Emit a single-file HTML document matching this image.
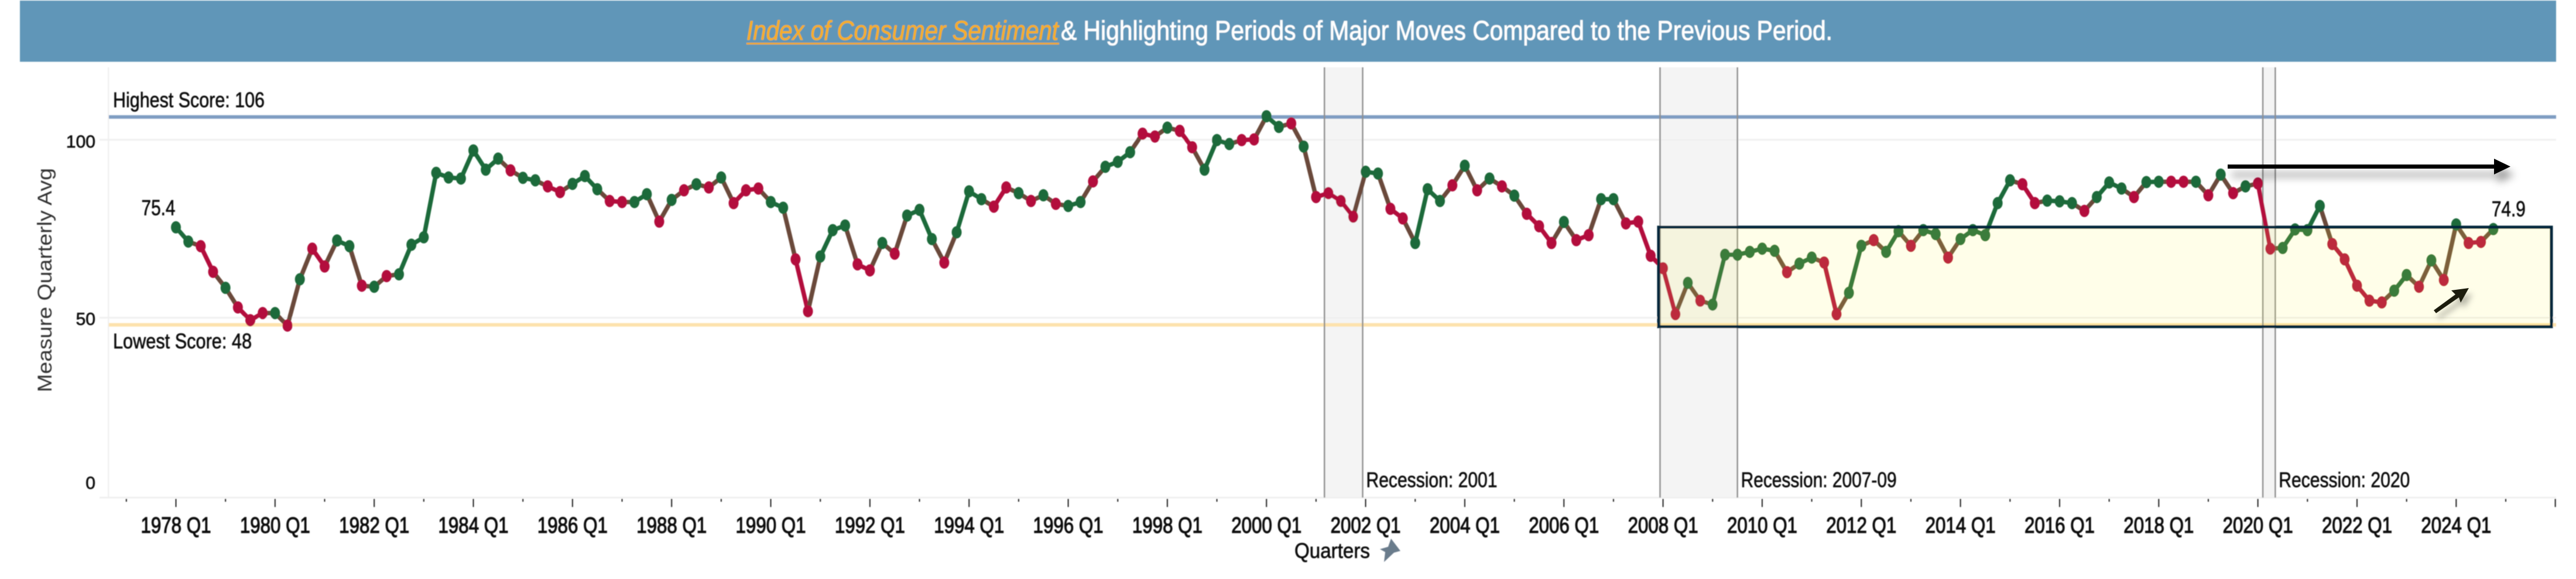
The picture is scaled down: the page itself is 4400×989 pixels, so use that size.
<!DOCTYPE html>
<html lang="en">
<head>
<meta charset="utf-8">
<title>Index of Consumer Sentiment</title>
<style>
html,body{margin:0;padding:0;background:#fff;}
#stage{display:block;width:4400px;height:989px;font-family:"Liberation Sans",sans-serif;}
text{font-family:"Liberation Sans",sans-serif;fill:#111;stroke:#111;stroke-width:0.7px;}
</style>
</head>
<body>
<svg id="stage" xmlns="http://www.w3.org/2000/svg" width="4400" height="989" viewBox="0 0 4400 989">
  <defs>
    <filter id="soft" x="-2%" y="-2%" width="104%" height="104%"><feGaussianBlur stdDeviation="0.8"/></filter>
    <filter id="arrow-shadow" x="-20%" y="-100%" width="140%" height="400%"><feDropShadow dx="7" dy="14" stdDeviation="7" flood-color="#000" flood-opacity="0.4"/></filter>
    <filter id="small-arrow-shadow" x="-50%" y="-50%" width="200%" height="200%"><feDropShadow dx="6" dy="10" stdDeviation="5" flood-color="#000" flood-opacity="0.28"/></filter>
  </defs>
  <rect width="4400" height="989" fill="#fff"/>
  <g filter="url(#soft)">
    <rect x="34" y="1" width="4332" height="104.500" fill="#6096b8"/>
    <text x="1275" y="68" font-size="46" font-style="italic" textLength="533" lengthAdjust="spacingAndGlyphs" style="fill:#f6ae27;stroke:#f6ae27">Index of Consumer Sentiment</text>
    <rect x="1275" y="73" width="534" height="3" fill="#f0a820"/>
    <text x="1812" y="68" font-size="46" textLength="1318" lengthAdjust="spacingAndGlyphs" style="fill:#fff;stroke:#fff">&amp; Highlighting Periods of Major Moves Compared to the Previous Period.</text>
  </g>
  <g id="plot" filter="url(#soft)"></g>
  <g>
    <g filter="url(#arrow-shadow)">
      <rect x="3805" y="281" width="458" height="7" fill="#000"/>
      <polygon points="4260,271 4288,284.500 4260,298" fill="#000"/>
    </g>
    <g filter="url(#small-arrow-shadow)">
      <polygon points="4157,530 4194,503 4187,496 4217,492 4203,517 4200,508 4161,535" fill="#1f1f10"/>
    </g>
  </g>
  <g filter="url(#soft)">
    <text transform="translate(88,670) rotate(-90)" font-size="34" textLength="383" lengthAdjust="spacingAndGlyphs" style="fill:#333;stroke:none">Measure Quarterly Avg</text>
    <text x="2211" y="953" font-size="36" textLength="129" lengthAdjust="spacingAndGlyphs">Quarters</text>
    <polygon points="2376,920 2392,941 2381,944 2364,960 2366,943 2357,938 2371,934" fill="#6b7b8c"/>
  </g>
</svg>
<script>
// ---- chart data ----
const sentimentValues = [
75.4,71.4,70.1,62.9,58.4,52.9,49.3,51.3,51.3,47.8,
60.8,69.4,64.4,71.7,70.1,59.0,58.7,61.7,62.2,70.5,
72.6,90.7,89.4,89.1,97.0,91.6,94.7,91.4,89.3,88.6,
86.9,85.3,87.6,89.8,86.1,82.8,82.5,82.5,84.7,77.0,
83.1,85.8,87.5,86.6,89.4,82.2,85.8,86.3,82.5,80.9,
66.4,51.8,67.2,74.6,75.9,65.0,63.3,71.0,68.0,78.7,
80.3,72.1,65.5,74.0,85.5,83.3,81.2,86.6,85.0,82.8,
84.4,82.0,81.4,82.5,88.3,92.4,93.8,96.5,101.7,100.9,
103.4,102.5,97.9,91.6,99.9,98.8,99.9,100.1,106.6,103.6,
104.6,98.1,83.9,85.0,82.8,78.4,91.0,90.5,80.6,77.9,
71.0,86.1,82.8,87.2,92.7,85.8,89.1,86.9,84.3,79.2,
75.7,71.0,76.9,71.8,73.2,83.3,83.3,76.5,77.0,67.4,
63.9,51.0,59.8,54.8,53.7,67.7,67.7,68.5,69.4,68.8,
62.8,65.2,66.9,65.5,51.0,57.0,70.2,71.8,68.5,74.3,
70.2,74.6,73.5,66.9,72.1,74.6,73.2,82.2,88.6,87.5,
82.2,82.9,82.7,82.2,80.0,83.9,88.0,86.3,83.9,88.1,
88.2,88.2,88.2,88.2,84.4,90.2,85.0,86.9,87.7,69.4,
69.6,74.8,74.6,81.4,70.7,66.4,59.0,54.8,54.3,57.6,
62.0,58.7,66.1,60.6,76.2,71.0,71.3,74.9
];
const moveFlags = ("GGRRGRRRGR"+"GRRGGRGRGG"+"GGGGGGGRGG"+"RRGGGRRGGR"+
"GRGRGRRRGG"+"RRGGGRRGRG"+"GGRGGGRRGR"+"GRGGRGGGRR"+
"GRRGGGRRGG"+"RGRRRRGGRR"+"GGGRGRGRGR"+"RRGRRGGRRR"+
"RRGRGGGGGG"+"RGGRRGGRGG"+"RGGRGGGGGR"+"RGGGRGGGRG"+
"GRRGRGRGRR"+"GGGGRRRRRG"+"GRGRGRRG").split("");
const tickYears = [1978,1980,1982,1984,1986,1988,1990,1992,1994,1996,1998,2000,2002,2004,2006,2008,2010,2012,2014,2016,2018,2020,2022,2024];
const tickLabels = tickYears.map(function(y){return y+" Q1";});
const minorTickYears = [1977,1979,1981,1983,1985,1987,1989,1991,1993,1995,1997,1999,2001,2003,2005,2007,2009,2011,2013,2015,2017,2019,2021,2023,2025,2026];
const yTickValues = [100,50,0];
const recessionNames = ["2001","2007-09","2020"];
const recessionStarts = [2001.17,2007.94,2020.10];
const recessionEnds = [2001.94,2009.50,2020.35];
const highestScore = 106.4;
const lowestScore = 48;

// ---- scales ----
function xYear(y){ return 300.5 + (y-1978)*84.67; }
function xQuarter(i){ return xYear(1978 + i/4); }
function yVal(v){ return 238.7 + (100-v)*6.08; }

const NS = "http://www.w3.org/2000/svg";
const plot = document.getElementById("plot");
function el(tag, attrs, text){
  const e = document.createElementNS(NS, tag);
  for (const k in attrs) e.setAttribute(k, attrs[k]);
  if (text !== undefined) e.textContent = text;
  plot.appendChild(e);
  return e;
}
const LEFT = 186, RIGHT = 4366, BASE = 850, TOP = 115;
const GREEN = "#1f6b3b", RED = "#b3103c", MIX = "#6a4a3b";

// recession bands
recessionStarts.forEach(function(s, i){
  const x0 = xYear(s), x1 = xYear(recessionEnds[i]);
  const band = el("rect",{x:x0,y:TOP,width:x1-x0,height:BASE-TOP,fill:"#f4f4f4"});
  
  
});

// axis + gridlines
const yAxis = el("rect",{x:184,y:TOP,width:2.5,height:BASE-TOP,fill:"#f0f0f0"});


[100,50].forEach(function(v){
  const g = el("rect",{x:170,y:yVal(v)-1.5,width:RIGHT-170,height:3,fill:"#f0f0f0"});
  
  
});
const xAxis = el("rect",{x:170,y:BASE-1.5,width:RIGHT-170,height:3,fill:"#f0f0f0"});



// reference lines
const hi = el("rect",{x:LEFT,y:yVal(highestScore)-3,width:RIGHT-LEFT,height:6,fill:"#7f9dc2"});


const lo = el("rect",{x:LEFT,y:yVal(lowestScore)-3,width:RIGHT-LEFT,height:6,fill:"#fde2ad"});



// recession edges
recessionStarts.forEach(function(s, i){
  [s, recessionEnds[i]].forEach(function(v){
    const l = el("rect",{x:xYear(v)-1.25,y:TOP,width:2.5,height:BASE-TOP,fill:"#8f8f8f"});
    
    
  });
});

// x ticks and labels
tickYears.forEach(function(y, i){
  const x = xYear(y);
  const t = el("rect",{x:x-1,y:852,width:2,height:14,fill:"#222"});
  
  
  const lab = el("text",{x:x-60,y:910,"font-size":38,textLength:120,lengthAdjust:"spacingAndGlyphs"},tickLabels[i]);
  
  
  lab.setAttribute('style', 'stroke-width:1.2px');
});
minorTickYears.forEach(function(y){
  const h = y === 2026 ? 14 : 5;
  const t = el("rect",{x:xYear(y)-1,y:852,width:2,height:h,fill:"#222"});
  
  
});

// y tick labels
yTickValues.forEach(function(v){
  const str = String(v);
  const w = str.length * 16.7;
  const baseline = v === 0 ? 835 : (v === 50 ? 555 : 252);
  const lab = el("text",{x:163-w,y:baseline,"font-size":30,textLength:w,lengthAdjust:"spacingAndGlyphs"},str);
  
  
});

// series segments
sentimentValues.forEach(function(v, i){
  if (i === 0) return;
  const same = moveFlags[i] === moveFlags[i-1];
  const col = same ? (moveFlags[i] === "G" ? GREEN : RED) : MIX;
  const seg = el("line",{x1:xQuarter(i-1),y1:yVal(sentimentValues[i-1]),x2:xQuarter(i),y2:yVal(v),stroke:col,"stroke-width":7.5,"stroke-linecap":"round"});
  
  
});
// series points
sentimentValues.forEach(function(v, i){
  const dot = el("ellipse",{cx:xQuarter(i),cy:yVal(v),rx:8.5,ry:10.5,fill:moveFlags[i] === "G" ? GREEN : RED});
  
  
});

// highlighted box
const boxEl = el("rect",{x:2833,y:388,width:1525,height:170,fill:"rgba(255,250,63,0.12)",stroke:"#04263a","stroke-width":5});



// labels
const firstLabel = el("text",{x:xQuarter(0)-59,y:yVal(sentimentValues[0])-21,"font-size":37,textLength:58,lengthAdjust:"spacingAndGlyphs"},sentimentValues[0].toFixed(1));


const lastIdx = sentimentValues.length-1;
const lastLabel = el("text",{x:xQuarter(lastIdx)-3,y:yVal(sentimentValues[lastIdx])-22,"font-size":37,textLength:58,lengthAdjust:"spacingAndGlyphs"},sentimentValues[lastIdx].toFixed(1));


const hiLab = el("text",{x:193,y:183,"font-size":36,textLength:259,lengthAdjust:"spacingAndGlyphs"},"Highest Score: 106");


const loLab = el("text",{x:193,y:595,"font-size":36,textLength:237,lengthAdjust:"spacingAndGlyphs"},"Lowest Score: 48");


recessionNames.forEach(function(n, i){
  const w = n.length === 4 ? 224 : 266;
  const r = el("text",{x:xYear(recessionEnds[i])+6,y:832,"font-size":36,textLength:w,lengthAdjust:"spacingAndGlyphs"},"Recession: "+n);
  
  
});
</script>
</body>
</html>
